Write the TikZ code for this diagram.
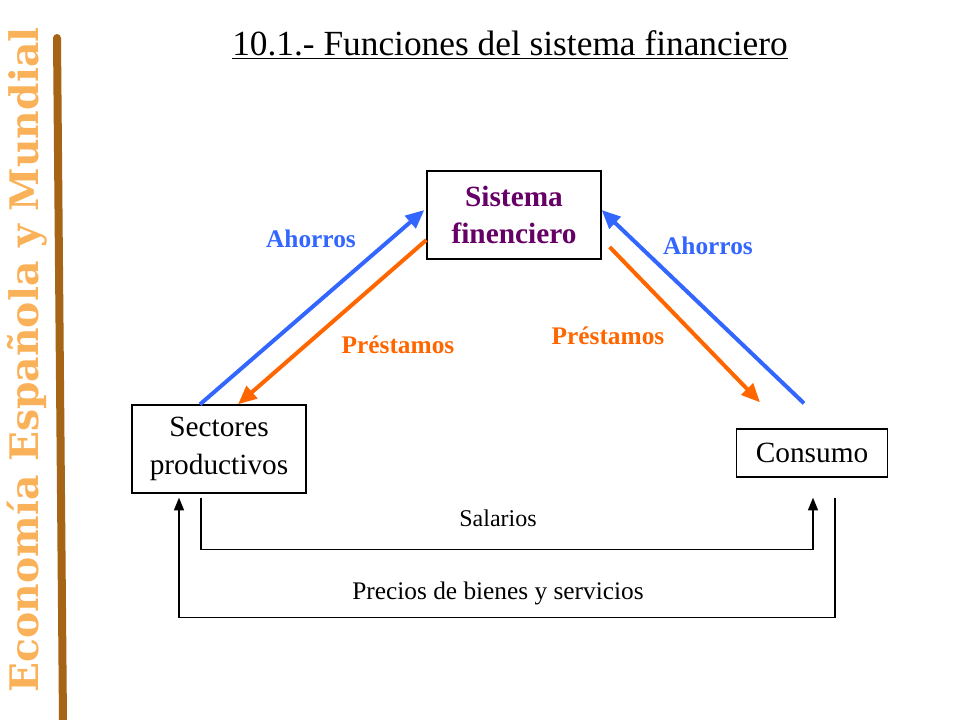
\documentclass[tikz,border=0pt]{standalone}
\usepackage{fontspec}
\setmainfont{Liberation Serif}
\newfontfamily\slabfont{DejaVu Serif}
\usetikzlibrary{arrows.meta}
\definecolor{ahorro}{RGB}{51,102,255}
\definecolor{prestamo}{RGB}{255,102,0}
\definecolor{sistema}{RGB}{102,0,102}
\definecolor{marron}{RGB}{166,100,22}
\definecolor{rotulo}{RGB}{250,178,90}
\tikzset{
  caja/.style = {draw, line width=1pt, align=center, inner sep=2pt, font=\fontsize{22}{28}\selectfont},
  flecha/.style = {line width=3pt, -{Triangle[length=14pt, width=12pt]}},
  flujo/.style = {line width=1pt, -{Triangle[length=9.5pt, width=7.5pt]}},
  etiq/.style = {font=\fontsize{19}{22}\selectfont\bfseries}
}
\begin{document}
\begin{tikzpicture}[x=.75pt, y=-.75pt]
        \useasboundingbox (0,0) rectangle (960,720);
        \draw[marron, line width=6pt, line cap=round] (57,38) -- (63,722);
        \node[rotulo, rotate=90, font=\slabfont\fontsize{29.5}{30}\selectfont\bfseries] (rot) at (27,360) {Economía Española y Mundial};
        \node[font=\fontsize{26.5}{30}\selectfont] (tit) at (510,45) {\underline{10.1.- Funciones del sistema financiero}};

        \node[caja, minimum width=130.5pt, minimum height=66pt, text=sistema, font=\fontsize{22}{28}\selectfont\bfseries] (sist) at (514,215) {Sistema\\finenciero};
        \node[caja, minimum width=130.5pt, minimum height=66pt] (sect) at (219,449) {Sectores\\productivos};
        \node[caja, minimum width=113pt, minimum height=36pt] (cons) at (812,453) {Consumo};

        \draw[flecha, ahorro] ([xshift=-14.25pt]sect.north) -- ([xshift=-1.5pt, yshift=3.75pt]sist.west);
        \draw[flecha, prestamo] ([yshift=-18.75pt]sist.west) -- ([xshift=14.25pt]sect.north);
        \draw[flecha, ahorro] ([xshift=-6pt, yshift=18.75pt]cons.north) -- ([yshift=3.75pt]sist.east);
        \draw[flecha, prestamo] ([xshift=6pt, yshift=-24pt]sist.east) -- ([xshift=-39pt, yshift=19.5pt]cons.north);
        \node[etiq, ahorro] (aho1) at (311,239) {Ahorros};
        \node[etiq, prestamo] (pre1) at (398,345) {Préstamos};
        \node[etiq, prestamo] (pre2) at (608,336) {Préstamos};
        \node[etiq, ahorro] (aho2) at (708,246) {Ahorros};

        \draw[flujo] ([xshift=-13.5pt, yshift=-3pt]sect.south) -- ++(0,52) -| ([xshift=.75pt, yshift=-15pt]cons.south);
        \draw[flujo] ([xshift=17.25pt, yshift=-15pt]cons.south) -- ++(0,120) -| ([xshift=-30pt, yshift=-3pt]sect.south);
        \node[font=\fontsize{18}{22}\selectfont] (sal) at (498,518) {Salarios};
        \node[font=\fontsize{19}{22}\selectfont] (pre) at (498,593) {Precios de bienes y servicios};
\end{tikzpicture}
\end{document}
